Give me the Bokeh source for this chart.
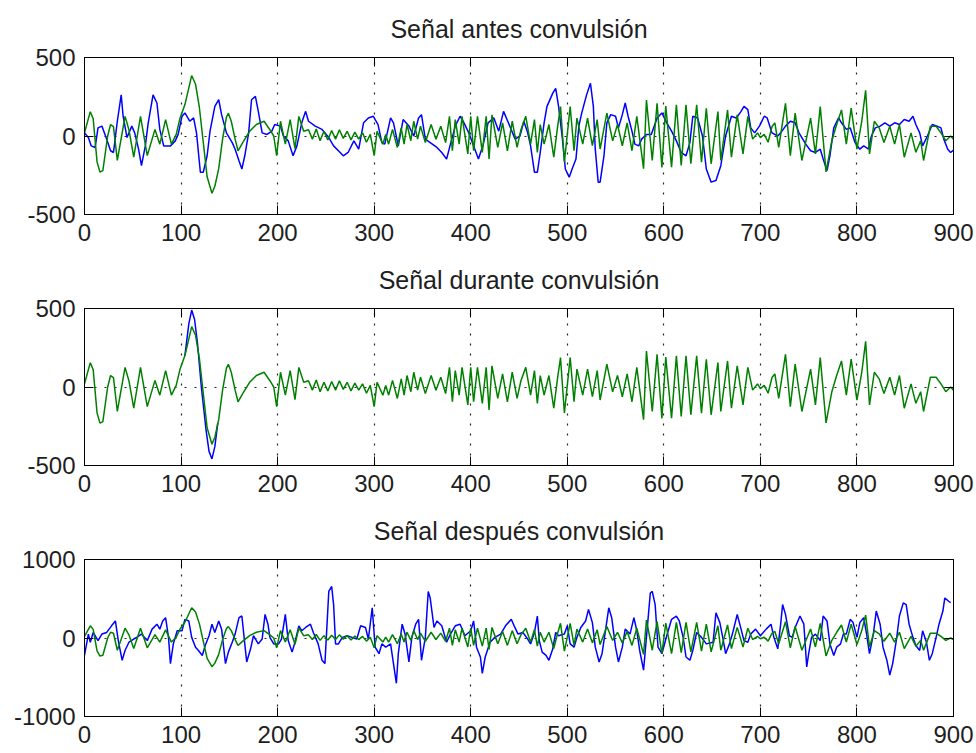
from bokeh.plotting import figure
from bokeh.models import Range1d, FixedTicker, LinearAxis, Grid, CustomLabelingPolicy
from bokeh.layouts import column
from bokeh.embed import file_html
from bokeh.resources import INLINE

# ---------------- data (sample index, amplitude) ----------------
titles = ["Señal antes convulsión", "Señal durante convulsión", "Señal después convulsión"]
x_ticks = [0, 100, 200, 300, 400, 500, 600, 700, 800, 900]
y_ticks_small = [-500, 0, 500]
y_ticks_large = [-1000, 0, 1000]

# green signal (same in the three panels) - turning points
green_x = [0, 6, 9, 13, 16, 19, 24, 27, 30, 34,
           42, 46, 51, 58, 65, 73, 78, 84, 90, 95,
           99, 104, 111, 115, 119, 123, 127, 132, 135, 139,
           143, 147, 149, 152, 156, 159, 164, 171, 178, 186,
           192, 196, 199, 203, 208, 213, 218, 222, 227, 232,
           236, 240, 244, 248, 252, 256, 260, 264, 268, 272,
           276, 280, 284, 288, 292, 296, 300, 303, 309, 312,
           315, 319, 324, 328, 331, 334, 338, 341, 345, 348,
           353, 359, 364, 369, 374, 378, 381, 384, 388, 391,
           397, 400, 403, 407, 412, 416, 419, 422, 428, 433,
           438, 443, 448, 452, 457, 462, 466, 469, 472, 476,
           481, 486, 490, 493, 497, 503, 507, 510, 516, 521,
           526, 531, 534, 541, 547, 552, 557, 562, 567, 572,
           579, 582, 588, 593, 598, 602, 608, 613, 618, 623,
           628, 634, 639, 644, 649, 656, 659, 666, 670, 676,
           682, 687, 692, 697, 700, 704, 708, 712, 715, 719,
           726, 731, 736, 743, 752, 757, 762, 768, 774, 779,
           784, 789, 794, 800, 805, 809, 813, 818, 823, 828,
           834, 839, 844, 849, 856, 861, 866, 869, 876, 882,
           887, 892, 897, 900]
green_y = [20, 155, 110, -165, -230, -220, 0, 73, 60, -156,
           125, 40, -135, 125, -125, 42, -52, 104, -52, 10,
           115, 200, 385, 330, 180, -40, -260, -365, -320, -208,
           -20, 120, 145, 94, -20, -94, -40, 30, 73, 94,
           40, 0, -125, 94, -52, 104, -80, 125, 30, 40,
           -20, 45, -30, 30, -25, 35, -20, 40, -15, 30,
           -25, 25, -20, 20, -40, 10, -125, 30, -52, 10,
           -52, 42, -73, 52, -52, 73, -30, 94, -20, 62,
           -42, 73, -20, 62, -42, 125, -94, 104, -52, 125,
           -114, 125, -94, 125, -104, 125, -146, 135, -73, 83,
           -94, 94, -73, 40, 125, -52, 104, -104, 73, -52,
           73, -135, 60, 187, -166, 187, -94, 114, -52, 114,
           -62, 104, -83, 146, -31, 73, -62, 83, -94, 125,
           -208, 229, -156, 208, -200, 190, -198, 198, -187, 198,
           -177, 198, -166, 177, -177, 156, -156, 166, -135, 135,
           -114, 125, -20, 20, -10, 10, -40, 60, 83, -73,
           208, -125, 146, -156, 114, -114, 187, -229, -30, 73,
           166, -52, 177, -83, 94, 291, -114, 94, 52, -42,
           62, -52, 73, -135, 20, -104, -30, -156, 62, 62,
           20, -30, 0, -20]

# blue signal, panel 1 (antes)
blue_antes_x = [0, 4, 7, 11, 14, 18, 23, 27, 30, 34,
                38, 40, 44, 49, 52, 56, 59, 63, 66, 71,
                75, 78, 82, 89, 94, 97, 101, 104, 109, 113,
                116, 120, 123, 127, 130, 135, 139, 142, 147, 153,
                156, 160, 163, 166, 170, 173, 177, 180, 184, 189,
                194, 197, 203, 206, 211, 216, 220, 225, 229, 232,
                239, 246, 253, 258, 263, 268, 273, 279, 284, 289,
                294, 299, 304, 308, 311, 317, 320, 325, 330, 336,
                341, 346, 349, 353, 358, 365, 370, 375, 379, 384,
                389, 393, 398, 403, 408, 413, 418, 424, 429, 434,
                439, 446, 451, 455, 459, 462, 466, 469, 472, 476,
                479, 485, 488, 491, 495, 498, 502, 505, 509, 512,
                515, 520, 524, 527, 529, 532, 534, 538, 541, 545,
                550, 553, 557, 560, 563, 567, 570, 574, 577, 582,
                587, 593, 598, 603, 608, 613, 618, 623, 627, 630,
                635, 640, 644, 649, 654, 659, 664, 670, 675, 680,
                683, 687, 690, 694, 699, 704, 707, 712, 718, 721,
                726, 731, 736, 740, 747, 752, 757, 762, 765, 769,
                772, 776, 781, 784, 789, 793, 798, 803, 807, 812,
                815, 819, 824, 829, 834, 839, 844, 849, 854, 858,
                861, 865, 868, 873, 878, 883, 887, 890, 894, 897,
                900]
blue_antes_y = [20, -10, -63, -73, 52, 63, -20, -94, -105, 94,
                262, 126, -10, 63, 20, -84, -189, -63, 84, 262,
                210, 42, -63, -63, -31, 10, 126, 147, 94, 115,
                20, -231, -231, -126, 31, 189, 231, 136, 20, -42,
                -84, -157, -210, -126, 20, 231, 252, 157, 20, 10,
                31, 73, 63, 0, -31, -126, -63, 84, 157, 94,
                63, 42, -10, -63, -94, -126, -105, -31, -84, 84,
                115, 126, 73, -42, -52, 115, 84, -63, 105, 63,
                0, 115, 136, -20, -42, -73, -105, -147, -52, 63,
                126, 84, 20, -63, -147, -52, 84, 115, 31, 157,
                84, -20, 0, 94, 20, -63, -231, -231, -105, 84,
                189, 273, 304, 189, -20, -210, -262, -210, -147, 63,
                147, 262, 336, 189, -84, -294, -294, -126, 84, 136,
                126, 52, 136, 210, 126, 31, -52, -63, -20, 10,
                10, 115, 147, 84, 31, -31, -105, -126, -42, 126,
                115, 0, -210, -294, -284, -189, 0, 126, 115, 157,
                189, 168, 52, 20, 63, 126, 115, 20, 0, 20,
                63, 94, 84, 20, -52, -94, -105, -84, -147, -220,
                -126, 52, 115, 84, 42, 52, -42, -84, -63, -84,
                0, 52, 63, 84, 63, 84, 73, 105, 94, 126,
                73, 20, -63, 0, 73, 63, 52, -20, -84, -105,
                -90]

# blue signal, panel 2 (durante): only where it departs from the green one
blue_durante_x = [104, 108, 111, 114, 117, 121, 126, 129, 132, 135, 138]
blue_durante_y = [200, 400, 490, 430, 280, 0, -280, -410, -458, -380, -230]

# blue signal, panel 3 (después)
blue_despues_x = [0, 4, 6, 9, 14, 18, 23, 28, 32, 35,
                  39, 42, 46, 51, 54, 59, 65, 70, 75, 78,
                  81, 84, 87, 89, 92, 96, 101, 104, 108, 111,
                  115, 118, 122, 125, 129, 132, 135, 139, 142, 146,
                  149, 153, 156, 160, 163, 166, 168, 172, 175, 180,
                  184, 187, 190, 192, 196, 201, 204, 208, 211, 215,
                  218, 222, 225, 229, 234, 237, 242, 246, 249, 253,
                  256, 258, 260, 263, 267, 272, 277, 282, 286, 291,
                  294, 298, 301, 305, 308, 312, 317, 320, 323, 325,
                  329, 332, 336, 339, 343, 346, 349, 353, 356, 358,
                  362, 365, 370, 375, 379, 384, 389, 394, 400, 403,
                  406, 410, 412, 415, 420, 425, 431, 436, 442, 445,
                  449, 454, 459, 462, 466, 469, 471, 474, 478, 481,
                  485, 488, 491, 497, 500, 503, 507, 510, 514, 519,
                  522, 526, 529, 533, 536, 539, 543, 546, 550, 553,
                  557, 560, 565, 569, 572, 575, 579, 582, 586, 588,
                  591, 594, 598, 603, 608, 613, 616, 620, 623, 627,
                  630, 634, 639, 644, 651, 654, 658, 661, 664, 668,
                  671, 676, 680, 683, 687, 690, 695, 700, 706, 711,
                  714, 718, 721, 723, 726, 730, 733, 736, 741, 745,
                  748, 750, 753, 757, 762, 765, 769, 772, 776, 779,
                  783, 786, 789, 793, 796, 800, 803, 807, 810, 813,
                  817, 820, 824, 827, 831, 834, 837, 841, 844, 848,
                  851, 854, 858, 861, 865, 868, 872, 875, 878, 882,
                  885, 889, 891, 895, 897]
blue_despues_y = [-222, 50, -54, 71, -33, 50, 71, 155, 217, -33,
                  -284, -159, -54, -13, 8, 50, -33, 113, 176, 113,
                  217, 259, 8, -326, -75, 92, 92, 238, 217, 8,
                  -117, -159, -222, -96, 29, 176, 71, 217, 113, -326,
                  -180, -54, 50, 259, 280, -75, -305, -138, 29, -75,
                  -13, 300, 176, 8, -75, -75, -13, 300, -33, -180,
                  -54, 155, 92, 134, 176, 71, -75, -284, -326, 593,
                  656, 426, -75, -75, 8, 29, 8, -13, 155, 134,
                  -13, 385, -117, -200, -75, -117, -75, -326, -577, -200,
                  176, 50, -305, 8, 176, 238, -284, 8, 593, 510,
                  134, 217, 155, -54, 50, 155, 176, 29, 92, 217,
                  -117, -242, -451, -242, -54, 8, 50, 155, 238, 155,
                  50, 71, -13, -75, 71, 280, -33, -180, -222, -284,
                  -138, 71, 29, 50, 155, -75, -117, 8, 134, 217,
                  364, 196, -117, -305, -200, 50, 385, 259, -117, -305,
                  -117, 113, 50, 259, 92, -159, -410, 8, 573, 593,
                  426, -117, -200, 29, 238, 280, 217, 8, -242, -284,
                  -159, 71, 8, -75, -54, 322, 196, 8, -200, -75,
                  50, 300, 113, -33, -54, 50, 113, 29, 113, 176,
                  8, -138, 176, 426, 301, 29, 8, 134, 280, 176,
                  -368, -200, 8, 50, -33, 280, 217, -75, -222, -117,
                  -75, 50, 50, 238, 196, 8, 196, 259, 50, -200,
                  50, 343, 176, -117, -284, -472, -326, -13, 280, 447,
                  426, 176, 8, -96, -159, 92, -54, -284, -200, 8,
                  176, 343, 510, 468, 450]

BLUE = "#0000FF"
GREEN = "#008000"
FONT = "Liberation Sans"
TXT = "#1e1e1e"


def make_panel(title, yticks, blue_x, blue_y):
    ylo, yhi = yticks[0], yticks[-1]
    p = figure(width=976, height=251, output_backend="svg", toolbar_location=None,
               x_range=Range1d(0, 900), y_range=Range1d(ylo, yhi),
               x_axis_type=None, y_axis_type=None,
               min_border_left=84, min_border_right=23,
               min_border_top=57, min_border_bottom=37,
               background_fill_color="white", border_fill_color="white")
    p.outline_line_color = "black"
    p.outline_line_width = 1

    xt = FixedTicker(ticks=x_ticks)
    yt = FixedTicker(ticks=yticks)

    # grid: dotted, at interior ticks
    p.add_layout(Grid(dimension=0, ticker=FixedTicker(ticks=x_ticks[1:-1]),
                      grid_line_color="black", grid_line_dash="2 8", grid_line_width=1.2,
                      grid_line_alpha=0.85))
    p.add_layout(Grid(dimension=1, ticker=FixedTicker(ticks=yticks[1:-1]),
                      grid_line_color="black", grid_line_dash="2 8", grid_line_width=1.2,
                      grid_line_alpha=0.85))

    def style(ax, labels=True):
        ax.axis_line_color = "black"
        ax.major_tick_line_color = "black"
        ax.major_tick_in = 9
        ax.major_tick_out = 0
        ax.minor_tick_in = 0
        ax.minor_tick_out = 0
        if labels:
            ax.major_label_text_font = FONT
            ax.major_label_text_font_size = "24px"
            ax.major_label_text_color = TXT
            ax.major_label_standoff = 9
        else:
            # tick marks only (box ticks), no labels drawn
            ax.major_label_policy = CustomLabelingPolicy(code="return []")
            ax.major_label_text_font_size = "1px"
            ax.major_label_standoff = 0

    bottom = LinearAxis(ticker=xt)
    style(bottom)
    left = LinearAxis(ticker=yt)
    style(left)
    left.major_label_overrides = {t: str(t) for t in yticks}
    top = LinearAxis(ticker=xt)
    style(top, labels=False)
    right = LinearAxis(ticker=yt)
    style(right, labels=False)
    p.add_layout(bottom, "below")
    p.add_layout(left, "left")
    p.add_layout(top, "above")
    p.add_layout(right, "right")

    p.title.text = title
    p.title.align = "center"
    p.title.text_font = FONT
    p.title.text_font_size = "25px"
    p.title.text_font_style = "normal"
    p.title.text_color = TXT
    p.title.standoff = 21

    p.line(blue_x, blue_y, line_color=BLUE, line_width=1.5)
    p.line(green_x, green_y, line_color=GREEN, line_width=1.5)
    return p


p1 = make_panel(titles[0], y_ticks_small, blue_antes_x, blue_antes_y)
p2 = make_panel(titles[1], y_ticks_small, blue_durante_x, blue_durante_y)
p3 = make_panel(titles[2], y_ticks_large, blue_despues_x, blue_despues_y)

layout = column(p1, p2, p3, spacing=0)
open("out.html", "w").write(file_html(layout, INLINE))
